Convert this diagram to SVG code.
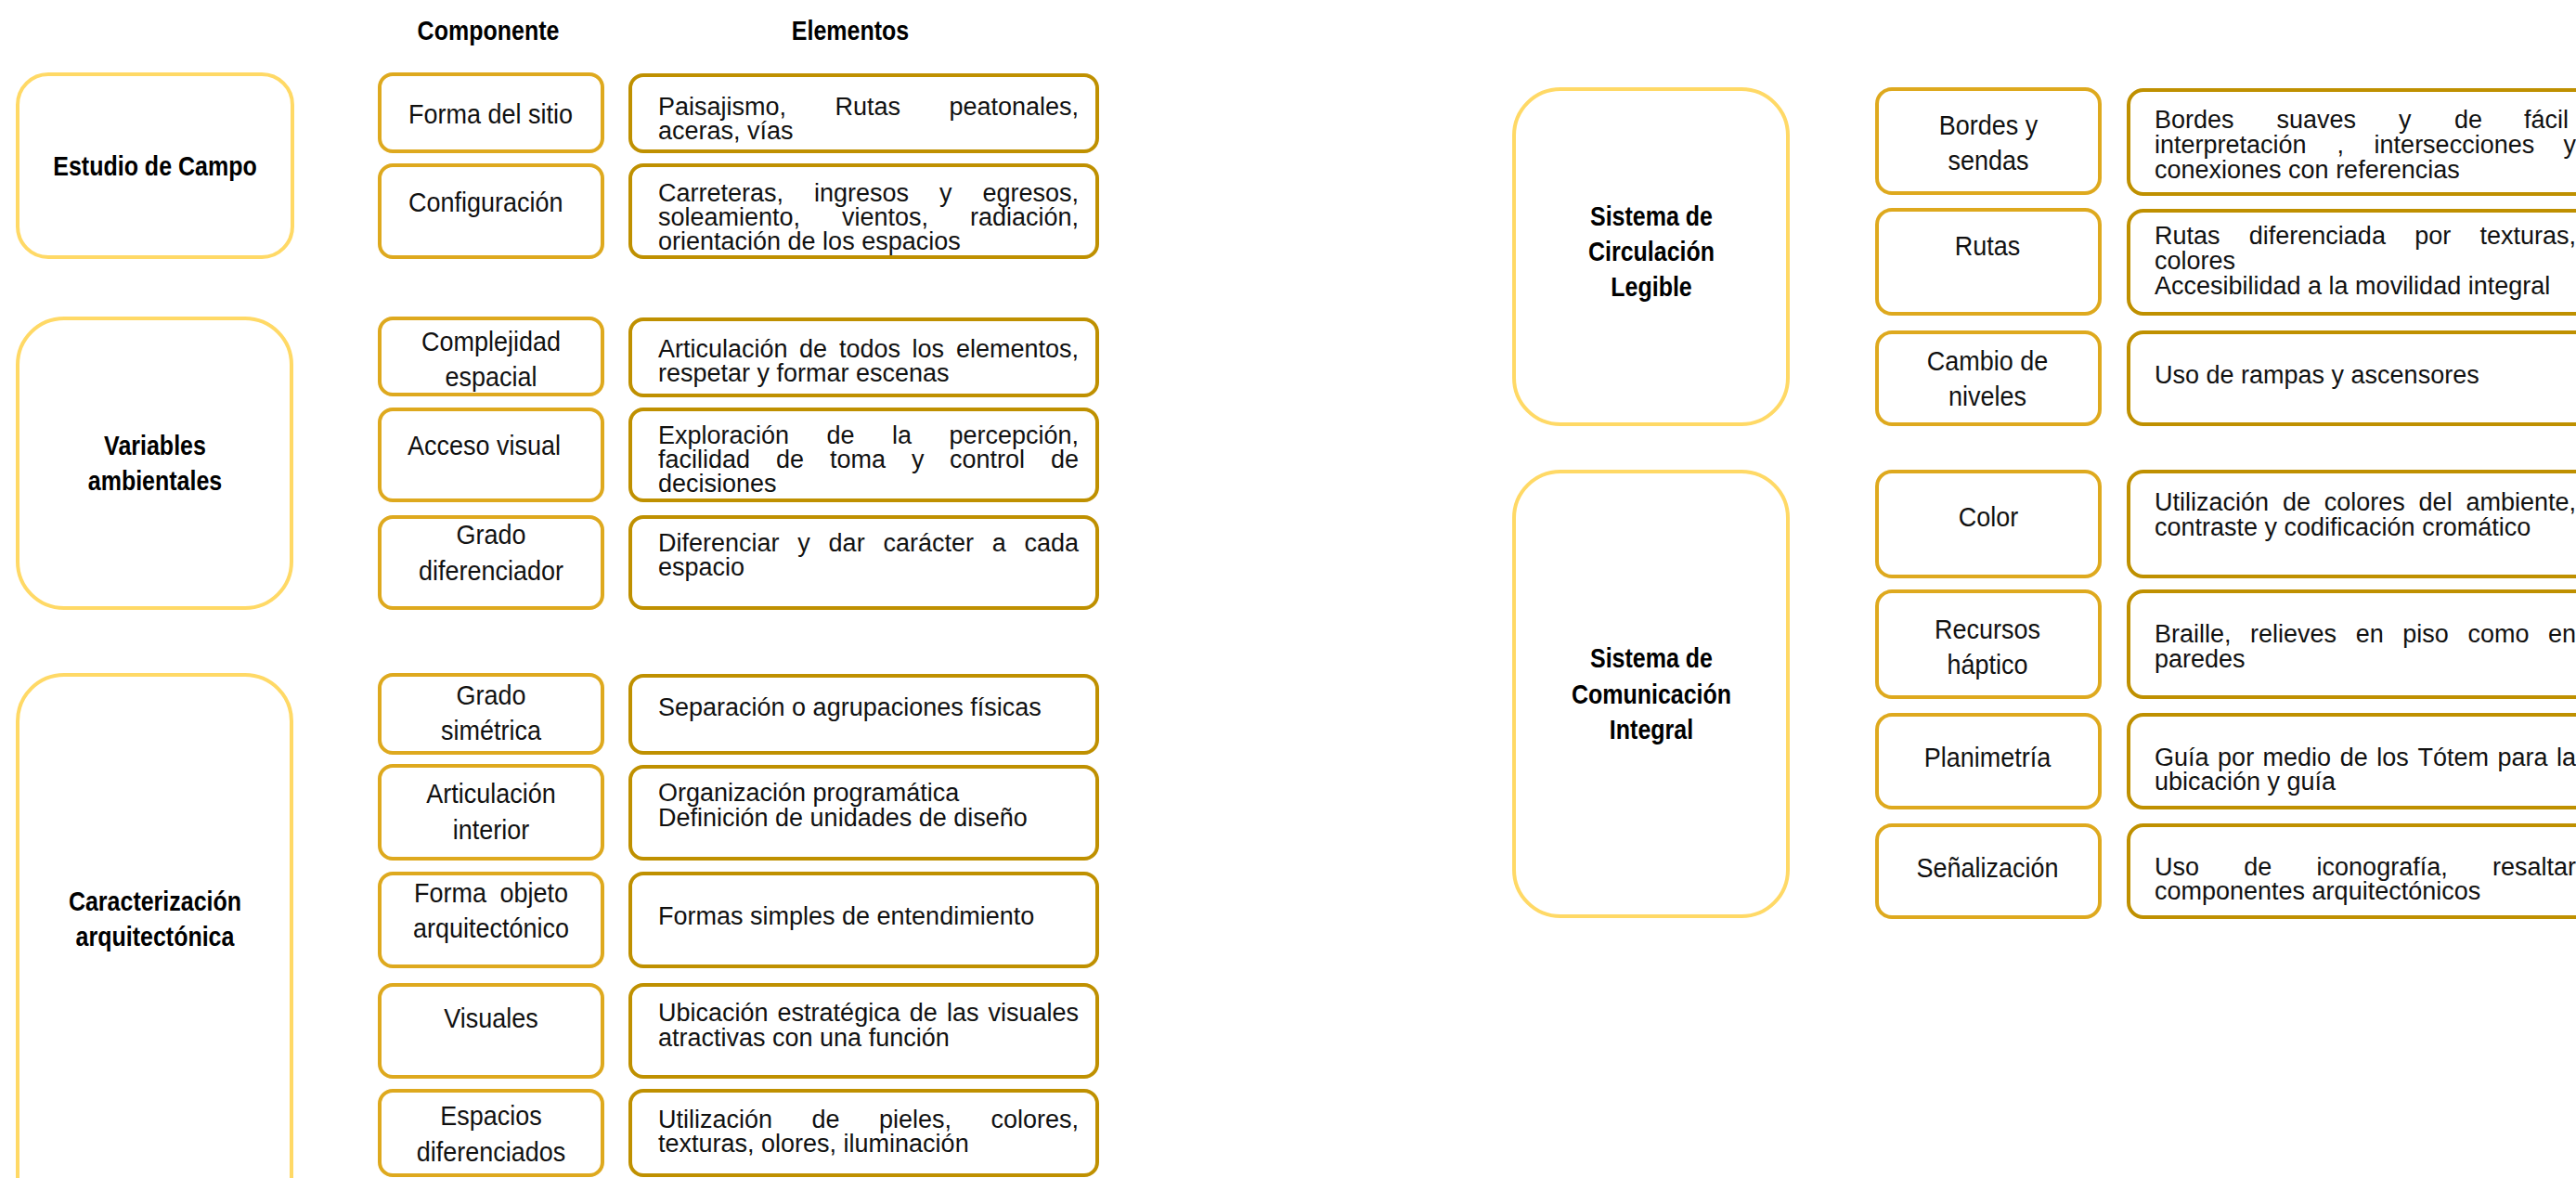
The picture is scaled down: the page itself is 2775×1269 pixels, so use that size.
<svg xmlns="http://www.w3.org/2000/svg" width="2775" height="1269" viewBox="0 0 2775 1269">
<style>
.big{fill:#fff;stroke:#FFD966;stroke-width:4}
.comp{fill:#fff;stroke:#DEA91E;stroke-width:4}
.elem{fill:#fff;stroke:#BF9000;stroke-width:4}
text{font-family:"Liberation Sans",Arial,sans-serif;font-size:27px;fill:#111}
.c{text-anchor:middle}
.e{text-anchor:end}
.b{font-weight:bold;font-size:25px;text-anchor:middle;fill:#000}
</style>
<rect width="2775" height="1269" fill="#fff"/>
<g id="headers" transform="scale(1,1.2)">
<text class="b" x="526" y="35.83">Componente</text>
<text class="b" x="916" y="35.83">Elementos</text>
</g>
<g id="connectors"/>

<g id="estudio-campo"><rect class="big" x="19" y="80" width="296" height="197" rx="33"/><g transform="scale(1,1.2)"><text class="b" x="167" y="157.5">Estudio de Campo</text></g></g>
<g id="variables-ambientales"><rect class="big" x="19" y="343" width="295" height="312" rx="50"/><g transform="scale(1,1.2)"><text class="b" x="167" y="408.33">Variables</text><text class="b" x="167" y="440">ambientales</text></g></g>
<g id="caracterizacion"><rect class="big" x="19" y="727" width="295" height="600" rx="50"/><g transform="scale(1,1.2)"><text class="b" x="167" y="817.5">Caracterización</text><text class="b" x="167" y="849.17">arquitectónica</text></g></g>

<g id="c-forma-sitio"><rect class="comp" x="409" y="80" width="240" height="83" rx="14"/><g transform="scale(1,1.12)"><text x="440" y="118.75">Forma del sitio</text></g></g>
<g id="c-configuracion"><rect class="comp" x="409" y="178" width="240" height="99" rx="14"/><g transform="scale(1,1.12)"><text x="440" y="203.57">Configuración</text></g></g>
<g id="c-complejidad"><rect class="comp" x="409" y="343" width="240" height="82" rx="14"/><g transform="scale(1,1.12)"><text class="c" x="529" y="337.5">Complejidad</text><text class="c" x="529" y="371.43">espacial</text></g></g>
<g id="c-acceso-visual"><rect class="comp" x="409" y="441" width="240" height="98" rx="14"/><g transform="scale(1,1.12)"><text x="439" y="437.5">Acceso visual</text></g></g>
<g id="c-grado-dif"><rect class="comp" x="409" y="557" width="240" height="98" rx="14"/><g transform="scale(1,1.12)"><text class="c" x="529" y="523.21">Grado</text><text class="c" x="529" y="558.04">diferenciador</text></g></g>
<g id="c-grado-sim"><rect class="comp" x="409" y="727" width="240" height="84" rx="14"/><g transform="scale(1,1.12)"><text class="c" x="529" y="677.68">Grado</text><text class="c" x="529" y="711.61">simétrica</text></g></g>
<g id="c-articulacion"><rect class="comp" x="409" y="825" width="240" height="100" rx="14"/><g transform="scale(1,1.12)"><text class="c" x="529" y="772.32">Articulación</text><text class="c" x="529" y="807.14">interior</text></g></g>
<g id="c-forma-objeto"><rect class="comp" x="409" y="941" width="240" height="100" rx="14"/><g transform="scale(1,1.12)"><text x="446" y="867.86">Forma</text><text class="e" x="612" y="867.86">objeto</text><text class="c" x="529" y="901.79">arquitectónico</text></g></g>
<g id="c-visuales"><rect class="comp" x="409" y="1061" width="240" height="99" rx="14"/><g transform="scale(1,1.12)"><text class="c" x="529" y="988.39">Visuales</text></g></g>
<g id="c-espacios"><rect class="comp" x="409" y="1175" width="240" height="91" rx="14"/><g transform="scale(1,1.12)"><text class="c" x="529" y="1082.14">Espacios</text><text class="c" x="529" y="1116.96">diferenciados</text></g></g>

<g id="e-paisajismo"><rect class="elem" x="679" y="81" width="503" height="82" rx="14"/>
<text x="709" y="124">Paisajismo,</text><text x="899.5" y="124">Rutas</text><text class="e" x="1162" y="124">peatonales,</text>
<text x="709" y="150">aceras, vías</text></g>
<g id="e-carreteras"><rect class="elem" x="679" y="178" width="503" height="99" rx="14"/>
<text x="709" y="217">Carreteras,</text><text x="877" y="217">ingresos</text><text x="1012" y="217">y</text><text class="e" x="1162" y="217">egresos,</text>
<text x="709" y="243">soleamiento,</text><text x="907" y="243">vientos,</text><text class="e" x="1162" y="243">radiación,</text>
<text x="709" y="269">orientación de los espacios</text></g>
<g id="e-articulacion"><rect class="elem" x="679" y="344" width="503" height="82" rx="14"/>
<text x="709" y="385">Articulación</text><text x="861" y="385">de</text><text x="904" y="385">todos</text><text x="982.6" y="385">los</text><text class="e" x="1162" y="385">elementos,</text>
<text x="709" y="411">respetar y formar escenas</text></g>
<g id="e-exploracion"><rect class="elem" x="679" y="441" width="503" height="98" rx="14"/>
<text x="709" y="478">Exploración</text><text x="890.5" y="478">de</text><text x="961" y="478">la</text><text class="e" x="1162" y="478">percepción,</text>
<text x="709" y="504">facilidad</text><text x="836" y="504">de</text><text x="894" y="504">toma</text><text x="982" y="504">y</text><text x="1023" y="504">control</text><text class="e" x="1162" y="504">de</text>
<text x="709" y="530">decisiones</text></g>
<g id="e-diferenciar"><rect class="elem" x="679" y="557" width="503" height="98" rx="14"/>
<text x="709" y="594">Diferenciar</text><text x="859.3" y="594">y</text><text x="892.6" y="594">dar</text><text x="951.4" y="594">carácter</text><text x="1068.7" y="594">a</text><text class="e" x="1162" y="594">cada</text>
<text x="709" y="620">espacio</text></g>
<g id="e-separacion"><rect class="elem" x="679" y="728" width="503" height="83" rx="14"/>
<text x="709" y="771">Separación o agrupaciones físicas</text></g>
<g id="e-organizacion"><rect class="elem" x="679" y="826" width="503" height="99" rx="14"/>
<text x="709" y="863">Organización programática</text><text x="709" y="890">Definición de unidades de diseño</text></g>
<g id="e-formas"><rect class="elem" x="679" y="941" width="503" height="100" rx="14"/>
<text x="709" y="996">Formas simples de entendimiento</text></g>
<g id="e-ubicacion"><rect class="elem" x="679" y="1061" width="503" height="99" rx="14"/>
<text x="709" y="1100">Ubicación</text><text x="837.6" y="1100">estratégica</text><text x="979.8" y="1100">de</text><text x="1019.9" y="1100">las</text><text class="e" x="1162" y="1100">visuales</text>
<text x="709" y="1127">atractivas con una función</text></g>
<g id="e-utilizacion-pieles"><rect class="elem" x="679" y="1175" width="503" height="91" rx="14"/>
<text x="709" y="1215">Utilización</text><text x="874.5" y="1215">de</text><text x="947" y="1215">pieles,</text><text class="e" x="1162" y="1215">colores,</text>
<text x="709" y="1241">texturas, olores, iluminación</text></g>

<g id="sistema-circulacion"><rect class="big" x="1631" y="96" width="295" height="361" rx="50"/><g transform="scale(1,1.2)"><text class="b" x="1779" y="202.5">Sistema de</text><text class="b" x="1779" y="234.17">Circulación</text><text class="b" x="1779" y="265.83">Legible</text></g></g>
<g id="sistema-comunicacion"><rect class="big" x="1631" y="508" width="295" height="479" rx="50"/><g transform="scale(1,1.2)"><text class="b" x="1779" y="599.17">Sistema de</text><text class="b" x="1779" y="631.67">Comunicación</text><text class="b" x="1779" y="663.33">Integral</text></g></g>

<g id="c-bordes"><rect class="comp" x="2022" y="96" width="240" height="112" rx="16"/><g transform="scale(1,1.12)"><text class="c" x="2142" y="129.46">Bordes y</text><text class="c" x="2142" y="163.39">sendas</text></g></g>
<g id="c-rutas"><rect class="comp" x="2022" y="226" width="240" height="112" rx="16"/><g transform="scale(1,1.12)"><text class="c" x="2141" y="245.54">Rutas</text></g></g>
<g id="c-cambio"><rect class="comp" x="2022" y="358" width="240" height="99" rx="16"/><g transform="scale(1,1.12)"><text class="c" x="2141" y="356.25">Cambio de</text><text class="c" x="2141" y="390.18">niveles</text></g></g>
<g id="c-color"><rect class="comp" x="2022" y="508" width="240" height="113" rx="16"/><g transform="scale(1,1.12)"><text class="c" x="2142" y="506.25">Color</text></g></g>
<g id="c-recursos"><rect class="comp" x="2022" y="637" width="240" height="114" rx="16"/><g transform="scale(1,1.12)"><text class="c" x="2141" y="614.29">Recursos</text><text class="c" x="2141" y="648.21">háptico</text></g></g>
<g id="c-planimetria"><rect class="comp" x="2022" y="770" width="240" height="100" rx="16"/><g transform="scale(1,1.12)"><text class="c" x="2141" y="737.5">Planimetría</text></g></g>
<g id="c-senalizacion"><rect class="comp" x="2022" y="889" width="240" height="99" rx="16"/><g transform="scale(1,1.12)"><text class="c" x="2141" y="843.75">Señalización</text></g></g>

<g id="e-bordes"><rect class="elem" x="2293" y="97" width="503" height="112" rx="16"/>
<text x="2321" y="138">Bordes</text><text x="2452.5" y="138">suaves</text><text x="2584" y="138">y</text><text x="2644" y="138">de</text><text x="2719" y="138">fácil</text>
<text x="2321" y="165">interpretación</text><text x="2517.4" y="165">,</text><text x="2557.6" y="165">intersecciones</text><text class="e" x="2775" y="165">y</text>
<text x="2321" y="192">conexiones con referencias</text></g>
<g id="e-rutas"><rect class="elem" x="2293" y="227" width="503" height="111" rx="16"/>
<text x="2321" y="263">Rutas</text><text x="2422.8" y="263">diferenciada</text><text x="2601.2" y="263">por</text><text class="e" x="2775" y="263">texturas,</text>
<text x="2321" y="290">colores</text><text x="2321" y="317">Accesibilidad a la movilidad integral</text></g>
<g id="e-rampas"><rect class="elem" x="2293" y="358" width="503" height="99" rx="16"/>
<text x="2321" y="413">Uso de rampas y ascensores</text></g>
<g id="e-colores"><rect class="elem" x="2293" y="508" width="503" height="113" rx="16"/>
<text x="2321" y="550">Utilización</text><text x="2459" y="550">de</text><text x="2503.7" y="550">colores</text><text x="2605.6" y="550">del</text><text class="e" x="2775" y="550">ambiente,</text>
<text x="2321" y="577">contraste y codificación cromático</text></g>
<g id="e-braille"><rect class="elem" x="2293" y="637" width="503" height="114" rx="16"/>
<text x="2321" y="692">Braille,</text><text x="2424" y="692">relieves</text><text x="2537.7" y="692">en</text><text x="2588.3" y="692">piso</text><text x="2658.4" y="692">como</text><text class="e" x="2775" y="692">en</text>
<text x="2321" y="719">paredes</text></g>
<g id="e-guia"><rect class="elem" x="2293" y="770" width="503" height="100" rx="16"/>
<text x="2321" y="825">Guía</text><text x="2389.1" y="825">por</text><text x="2437.6" y="825">medio</text><text x="2520.7" y="825">de</text><text x="2560.3" y="825">los</text><text x="2604.4" y="825">Tótem</text><text x="2690.5" y="825">para</text><text class="e" x="2775" y="825">la</text>
<text x="2321" y="851">ubicación y guía</text></g>
<g id="e-iconografia"><rect class="elem" x="2293" y="889" width="503" height="99" rx="16"/>
<text x="2321" y="943">Uso</text><text x="2417.3" y="943">de</text><text x="2495.6" y="943">iconografía,</text><text class="e" x="2775" y="943">resaltar</text>
<text x="2321" y="969">componentes arquitectónicos</text></g>
</svg>
